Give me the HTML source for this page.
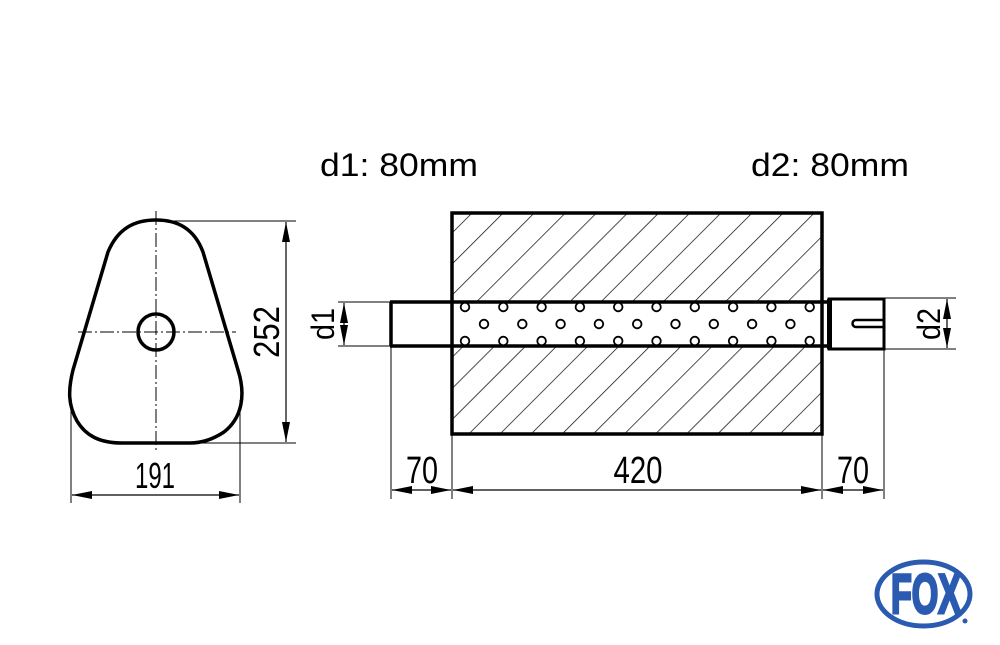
<!DOCTYPE html>
<html><head><meta charset="utf-8"><style>
html,body{margin:0;padding:0;background:#fff}
svg{display:block}
text{font-family:"Liberation Sans",sans-serif;fill:#000}
</style></head><body>
<svg width="1000" height="645" viewBox="0 0 1000 645" xmlns="http://www.w3.org/2000/svg">
<defs>
<pattern id="h" patternUnits="userSpaceOnUse" width="22" height="22" patternTransform="rotate(45)">
<line x1="0" y1="0" x2="0" y2="22" stroke="#000" stroke-width="1.4"/>
</pattern>
<marker id="a" viewBox="0 0 20 8" refX="20" refY="4" markerWidth="20" markerHeight="8" markerUnits="userSpaceOnUse" orient="auto-start-reverse">
<path d="M0,0 L20,4 L0,8 Z" fill="#000"/>
</marker>
</defs>

<text x="320" y="176" font-size="32" textLength="158" lengthAdjust="spacingAndGlyphs">d1: 80mm</text>
<text x="751" y="176" font-size="32" textLength="158" lengthAdjust="spacingAndGlyphs">d2: 80mm</text>

<path d="M108,252 C118,228 135,220 156,220 C177,220 194,228 203,252 L238,370 C246,395 242,418 224,432 C212,440 200,443 190,443 L122,443 C100,443 86,436 77,421 C68,405 68,390 73,370 Z" fill="none" stroke="#000" stroke-width="3.5"/>
<circle cx="156" cy="332" r="18" fill="none" stroke="#000" stroke-width="3.5"/>
<line x1="156" y1="211" x2="156" y2="451" stroke="#000" stroke-width="1" stroke-dasharray="14,3,2,3"/>
<line x1="78" y1="332" x2="236" y2="332" stroke="#000" stroke-width="1" stroke-dasharray="14,3,2,3"/>
<line x1="160" y1="221" x2="296" y2="221" stroke="#000" stroke-width="1"/>
<line x1="200" y1="443" x2="296" y2="443" stroke="#000" stroke-width="1"/>
<line x1="286" y1="222" x2="286" y2="442" stroke="#000" stroke-width="1.2" marker-start="url(#a)" marker-end="url(#a)"/>
<text transform="translate(279,332) rotate(-90)" font-size="36" text-anchor="middle" textLength="52" lengthAdjust="spacingAndGlyphs">252</text>
<line x1="71" y1="400" x2="71" y2="503" stroke="#000" stroke-width="1"/>
<line x1="240" y1="400" x2="240" y2="503" stroke="#000" stroke-width="1"/>
<line x1="72" y1="495" x2="239" y2="495" stroke="#000" stroke-width="1.2" marker-start="url(#a)" marker-end="url(#a)"/>
<text x="155" y="488" font-size="36" text-anchor="middle" textLength="40" lengthAdjust="spacingAndGlyphs">191</text>

<rect x="452" y="213" width="370" height="89" fill="url(#h)"/>
<rect x="452" y="346" width="370" height="88" fill="url(#h)"/>
<rect x="452" y="213" width="370" height="221" fill="none" stroke="#000" stroke-width="3.5"/>
<line x1="390" y1="302" x2="828" y2="302" stroke="#000" stroke-width="3.5"/>
<line x1="390" y1="346" x2="828" y2="346" stroke="#000" stroke-width="3.5"/>
<line x1="391" y1="302" x2="391" y2="346" stroke="#000" stroke-width="3.5"/>
<g fill="#fff" stroke="#000" stroke-width="1.8">
<circle cx="465" cy="307" r="4.3"/><circle cx="503.3" cy="307" r="4.3"/><circle cx="541.6" cy="307" r="4.3"/><circle cx="579.9" cy="307" r="4.3"/><circle cx="618.2" cy="307" r="4.3"/><circle cx="656.5" cy="307" r="4.3"/><circle cx="694.8" cy="307" r="4.3"/><circle cx="733.1" cy="307" r="4.3"/><circle cx="771.4" cy="307" r="4.3"/><circle cx="809.7" cy="307" r="4.3"/>
<circle cx="484" cy="324" r="4.3"/><circle cx="522.3" cy="324" r="4.3"/><circle cx="560.6" cy="324" r="4.3"/><circle cx="598.9" cy="324" r="4.3"/><circle cx="637.2" cy="324" r="4.3"/><circle cx="675.5" cy="324" r="4.3"/><circle cx="713.8" cy="324" r="4.3"/><circle cx="752.1" cy="324" r="4.3"/><circle cx="790.4" cy="324" r="4.3"/>
<circle cx="465" cy="341" r="4.3"/><circle cx="503.3" cy="341" r="4.3"/><circle cx="541.6" cy="341" r="4.3"/><circle cx="579.9" cy="341" r="4.3"/><circle cx="618.2" cy="341" r="4.3"/><circle cx="656.5" cy="341" r="4.3"/><circle cx="694.8" cy="341" r="4.3"/><circle cx="733.1" cy="341" r="4.3"/><circle cx="771.4" cy="341" r="4.3"/><circle cx="809.7" cy="341" r="4.3"/>
</g>
<rect x="829" y="299" width="55" height="50" fill="none" stroke="#000" stroke-width="3"/>
<rect x="827" y="299" width="5" height="50" fill="#000"/>
<path d="M884,320 L856,320 A3.5,3.5 0 0 0 856,327 L884,327" fill="none" stroke="#000" stroke-width="2.5"/>
<line x1="338" y1="302" x2="390" y2="302" stroke="#000" stroke-width="1"/>
<line x1="338" y1="346" x2="390" y2="346" stroke="#000" stroke-width="1"/>
<line x1="344" y1="303" x2="344" y2="345" stroke="#000" stroke-width="1.2" marker-start="url(#a)" marker-end="url(#a)"/>
<text transform="translate(334,324) rotate(-90)" font-size="32" text-anchor="middle" textLength="32" lengthAdjust="spacingAndGlyphs">d1</text>
<line x1="885" y1="298" x2="956" y2="298" stroke="#000" stroke-width="1"/>
<line x1="885" y1="349" x2="956" y2="349" stroke="#000" stroke-width="1"/>
<line x1="947" y1="299" x2="947" y2="348" stroke="#000" stroke-width="1.2" marker-start="url(#a)" marker-end="url(#a)"/>
<text transform="translate(940,324) rotate(-90)" font-size="32" text-anchor="middle" textLength="32" lengthAdjust="spacingAndGlyphs">d2</text>
<g stroke="#000" stroke-width="1">
<line x1="391" y1="346" x2="391" y2="499"/>
<line x1="452" y1="434" x2="452" y2="499"/>
<line x1="822" y1="434" x2="822" y2="499"/>
<line x1="884" y1="349" x2="884" y2="499"/>
</g>
<line x1="392" y1="490" x2="451" y2="490" stroke="#000" stroke-width="1.2" marker-start="url(#a)" marker-end="url(#a)"/>
<line x1="453" y1="490" x2="821" y2="490" stroke="#000" stroke-width="1.2" marker-start="url(#a)" marker-end="url(#a)"/>
<line x1="823" y1="490" x2="883" y2="490" stroke="#000" stroke-width="1.2" marker-start="url(#a)" marker-end="url(#a)"/>
<text x="422" y="483" font-size="38" text-anchor="middle" textLength="32" lengthAdjust="spacingAndGlyphs">70</text>
<text x="638" y="483" font-size="38" text-anchor="middle" textLength="49" lengthAdjust="spacingAndGlyphs">420</text>
<text x="853" y="483" font-size="38" text-anchor="middle" textLength="32" lengthAdjust="spacingAndGlyphs">70</text>

<ellipse cx="923.5" cy="594" rx="46.5" ry="32" fill="none" stroke="#2a5bb0" stroke-width="5"/>
<text x="926" y="613" font-size="56" font-weight="bold" text-anchor="middle" textLength="70" lengthAdjust="spacingAndGlyphs" style="fill:#2a5bb0;stroke:#2a5bb0;stroke-width:3">FOX</text>
<circle cx="965" cy="621" r="2.5" fill="#2a5bb0"/>
</svg>
</body></html>
